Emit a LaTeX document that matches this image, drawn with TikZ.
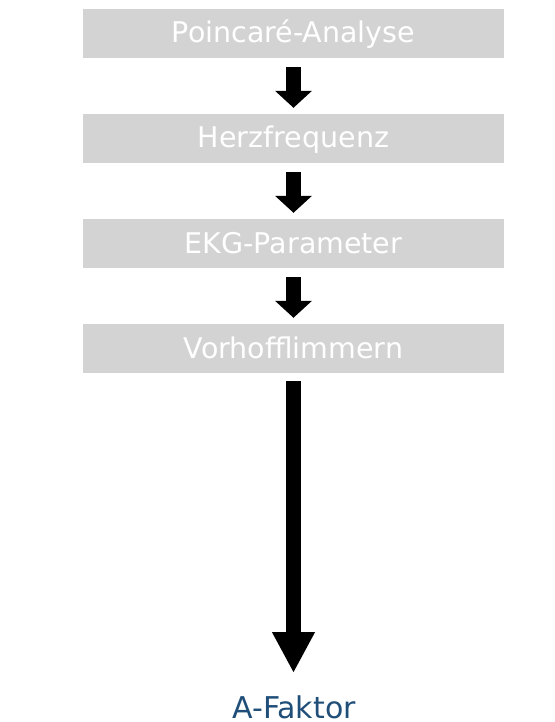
\documentclass[tikz,border=0pt]{standalone}
\usepackage{fontspec}
\setmainfont{DejaVu Sans}
\usetikzlibrary{arrows.meta,calc}
\definecolor{boxgray}{HTML}{D3D3D3}
\definecolor{resblue}{HTML}{1F4E79}
\begin{document}
\begin{tikzpicture}[x=1pt,y=-1pt,
  stepbox/.style={fill=boxgray,text=white,minimum width=421pt,inner sep=0pt,text height=34pt,text depth=15pt,font=\fontsize{28.5}{31}\selectfont},
  resnode/.style={text=resblue,inner sep=0pt,font=\fontsize{30}{33}\selectfont,anchor=base},
  flowarrow/.style={line width=15pt,-{Triangle[width=36pt,length=17pt]}},
  bigarrow/.style={line width=15pt,-{Triangle[width=40pt,length=41pt]}}]
\useasboundingbox (0,0) rectangle (554,722);
\node[stepbox] (a) at (293.5,33.5) {Poincaré-Analyse};
\node[stepbox] (b) at (293.5,138.5) {Herzfrequenz};
\node[stepbox] (c) at (293.5,243.5) {EKG-Parameter};
\node[stepbox] (d) at (293.5,348.5) {Vorhofflimmern};
\node[resnode] (f) at (294,718) {A-Faktor};
\draw[flowarrow] ($(a.south)+(0,9)$) -- ($(b.north)+(0,-6)$);
\draw[flowarrow] ($(b.south)+(0,9)$) -- ($(c.north)+(0,-6)$);
\draw[flowarrow] ($(c.south)+(0,9)$) -- ($(d.north)+(0,-6)$);
\draw[bigarrow] ($(d.south)+(0,8)$) -- ($(d.south |- f.base)+(0,-45)$);
\end{tikzpicture}
\end{document}
